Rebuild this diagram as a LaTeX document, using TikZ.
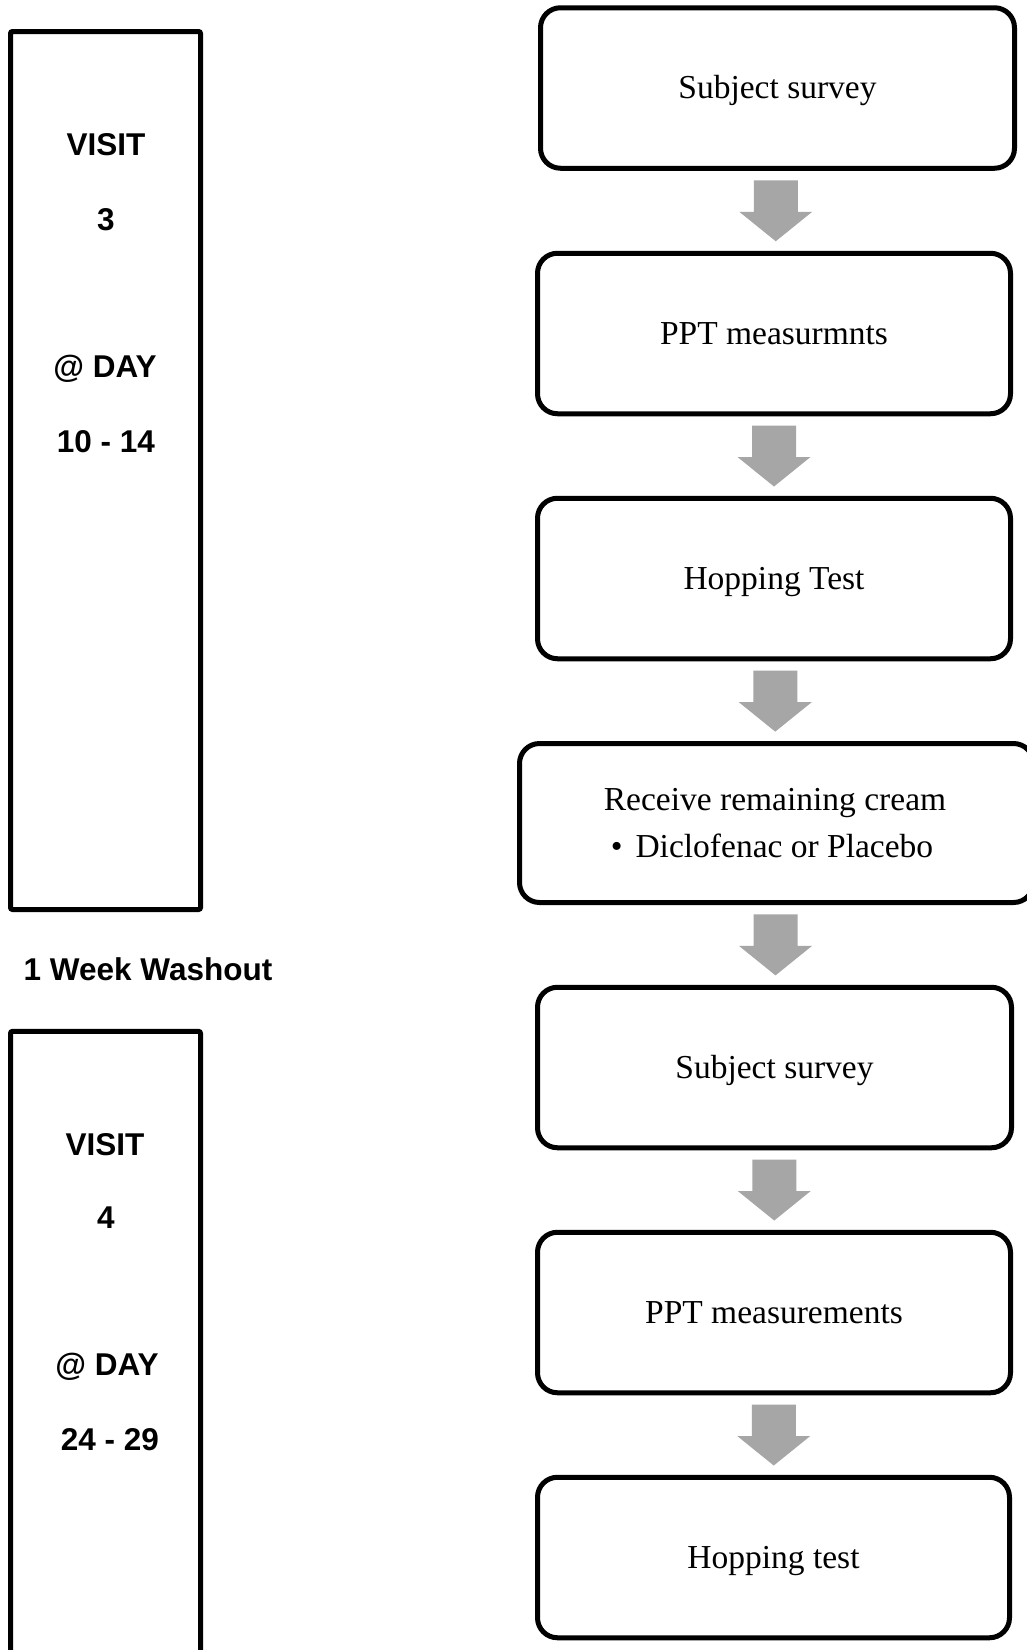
\documentclass[tikz,border=0pt]{standalone}
\usepackage{fontspec}
\setmainfont{Liberation Serif}
\newfontfamily\lsans{Liberation Sans}
\usetikzlibrary{calc}
\definecolor{arrowgray}{HTML}{A6A6A6}
\begin{document}
\begin{tikzpicture}[x=1pt,y=-1pt,
  stepbox/.style={draw, line width=5pt, rounded corners=20pt,
    minimum width=474pt, minimum height=160.5pt, inner sep=0pt,
    font=\fontsize{33.5}{40}\selectfont, text height=23pt, text depth=2pt},
  visitbox/.style={draw, line width=5pt, rounded corners=2pt,
    minimum width=190pt, inner sep=0pt},
  sidelabel/.style={font=\lsans\bfseries\fontsize{31.5}{36}\selectfont,
    anchor=base, inner sep=0pt},
  boxtext/.style={font=\fontsize{33.5}{40}\selectfont, anchor=base, inner sep=0pt},
  garrow/.pic={\fill[arrowgray] (-22,-30.5) -- (22,-30.5) -- (22,1) -- (36.5,1)
     -- (0,30.5) -- (-36.5,1) -- (-22,1) -- cycle;}
]
\useasboundingbox (0,0) rectangle (1027,1650);
\fill[white] (0,0) rectangle (1027,1650);

% left visit boxes
\node[visitbox, minimum height=878pt] (v3) at (105.5,470.5) {};
\node[visitbox, minimum height=668.5pt] (v4) at (105.5,1365.6) {};

\node[sidelabel] (v3a) at (106,155) {VISIT};
\node[sidelabel] (v3b) at (106,230) {3};
\node[sidelabel] (v3c) at (105,377) {@ DAY};
\node[sidelabel] (v3d) at (106,452) {10 - 14};

\node[sidelabel] (wash) at (148,980) {1 Week Washout};

\node[sidelabel] (v4a) at (105,1155) {VISIT};
\node[sidelabel] (v4b) at (106,1228) {4};
\node[sidelabel] (v4c) at (107,1375) {@ DAY};
\node[sidelabel] (v4d) at (110,1450) {24 - 29};

% right flow boxes
\node[stepbox] (b1) at (777.5,88) {Subject survey};
\node[stepbox, minimum width=473pt] (b2) at (774,333.5) {PPT measurmnts};
\node[stepbox, minimum width=473pt] (b3) at (774,578.5) {Hopping Test};
\node[stepbox, minimum width=514pt, minimum height=159pt] (b4) at (776.5,823) {};
\node[boxtext] (b4a) at (775,810) {Receive remaining cream};
\node[boxtext] (b4b) at (772,857) {\textbullet\hspace{13pt}Diclofenac or Placebo};
\node[stepbox] (b5) at (774.5,1067.5) {Subject survey};
\node[stepbox, minimum width=473pt] (b6) at (774,1312.5) {PPT measurements};
\node[stepbox, minimum width=472pt] (b7) at (773.5,1557.5) {Hopping test};

% block arrows between boxes
\path ($(b1.south)!0.5!(b2.north)$) coordinate (m1);
\path ($(b2.south)!0.5!(b3.north)$) coordinate (m2);
\path ($(b3.south)!0.5!(b4.north)$) coordinate (m3);
\path ($(b4.south)!0.5!(b5.north)$) coordinate (m4);
\path ($(b5.south)!0.5!(b6.north)$) coordinate (m5);
\path ($(b6.south)!0.5!(b7.north)$) coordinate (m6);
\foreach \m in {m1,m2,m3,m4,m5,m6} { \pic at (\m) {garrow}; }
\end{tikzpicture}
\end{document}
